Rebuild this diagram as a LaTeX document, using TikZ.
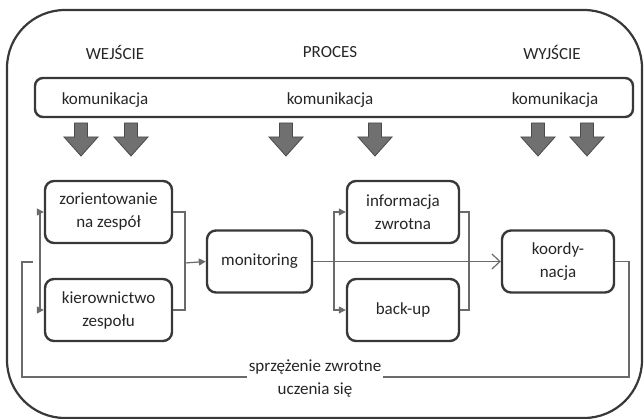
\documentclass[tikz,border=0pt]{standalone}
\usepackage{fontspec}
\setmainfont{Carlito}
\usetikzlibrary{arrows.meta,positioning,calc}
\definecolor{Ink}{HTML}{262626}
\definecolor{BoxLine}{HTML}{383838}
\definecolor{Wire}{HTML}{6A6A6A}
\definecolor{ArrowFill}{HTML}{707070}
\definecolor{ArrowLine}{HTML}{4A4A4A}
\newcommand{\txt}{\fontsize{17}{23}\selectfont}

\begin{document}
\begin{tikzpicture}[x=1pt,y=-1pt,
  stagebox/.style={draw=BoxLine,line width=2.4pt,rounded corners=9pt,minimum height=62pt,align=center,font=\txt,text=Ink,inner sep=0pt},
  label/.style={font=\txt,text=Ink,inner sep=0pt},
  wire/.style={draw=Wire,line width=1.2pt},
  feed/.style={wire,-{Triangle[length=7pt,width=7pt]}},
  downarrow/.pic={\draw[fill=ArrowFill,draw=ArrowLine,line width=0.8pt,line join=miter]
    (-6.5,0) -- (6.5,0) -- (6.5,14) -- (17,14) -- (0,33) -- (-17,14) -- (-6.5,14) -- cycle;}]
\useasboundingbox (0,0) rectangle (644,419);
% frame
\draw[BoxLine,line width=2.2pt,rounded corners=58pt] (7,10) rectangle (642,418);
% headers
\node[label] (hin) at (115,52) {WEJŚCIE};
\node[label] (hproc) at (330,52) {PROCES};
\node[label] (hout) at (552,52) {WYJŚCIE};
% communication bar
\node[draw=BoxLine,line width=2.4pt,rounded corners=8pt,minimum width=598pt,minimum height=39pt,inner sep=0pt] (bar) at (334,97.5) {};
\node[label] (kom1) at (105,100) {komunikacja};
\node[label] (kom2) at (330,100) {komunikacja};
\node[label] (kom3) at (555,100) {komunikacja};
\foreach \ax in {81,131,286,375,538,587}
  \pic at (\ax,123) {downarrow};
% stages
\node[stagebox,minimum width=127pt] (zor) at (108.5,212) {zorientowanie\\na zespół};
\node[stagebox,minimum width=127pt] (kier) at (108.5,310) {kierownictwo\\zespołu};
\node[stagebox,minimum width=105pt] (mon) at (259.5,261.5) {monitoring};
\node[stagebox,minimum width=112pt] (info) at (403,212) {informacja\\zwrotna};
\node[stagebox,minimum width=112pt] (back) at (403,310) {back-up};
\node[stagebox,minimum width=112pt] (koord) at (558,261.5) {koordy-\\nacja};
\node[label,align=center,inner xsep=2pt] (fb) at (315,378) {sprzężenie zwrotne\\uczenia się};
% junctions
\coordinate (split1) at (40,262);
\coordinate (merge1) at (185,263);
\coordinate (split2) at (334,262);
\coordinate (merge2) at (469,262);
\coordinate (fbR) at (629,377);
\coordinate (fbL) at (22,262);
\coordinate (fbend) at (33,262);
% connectors
\draw[feed] (split1) |- (zor.west);
\draw[feed] (split1) |- (kier.west);
\draw[wire] (zor.east) -| (merge1) |- (kier.east);
\draw[feed] (merge1) -- (mon.west);
\draw[wire,-{Straight Barb[length=8pt,width=15pt]}] (mon.east) -- (koord.west);
\draw[feed] (split2) |- (info.west);
\draw[feed] (split2) |- (back.west);
\draw[wire] (info.east) -| (merge2) |- (back.east);
\draw[wire] (koord.east) -| (fbR) -- (fbR -| fb.east);
\draw[wire] (fbR -| fb.west) -| (fbL) -- (fbend);
\end{tikzpicture}
\end{document}
